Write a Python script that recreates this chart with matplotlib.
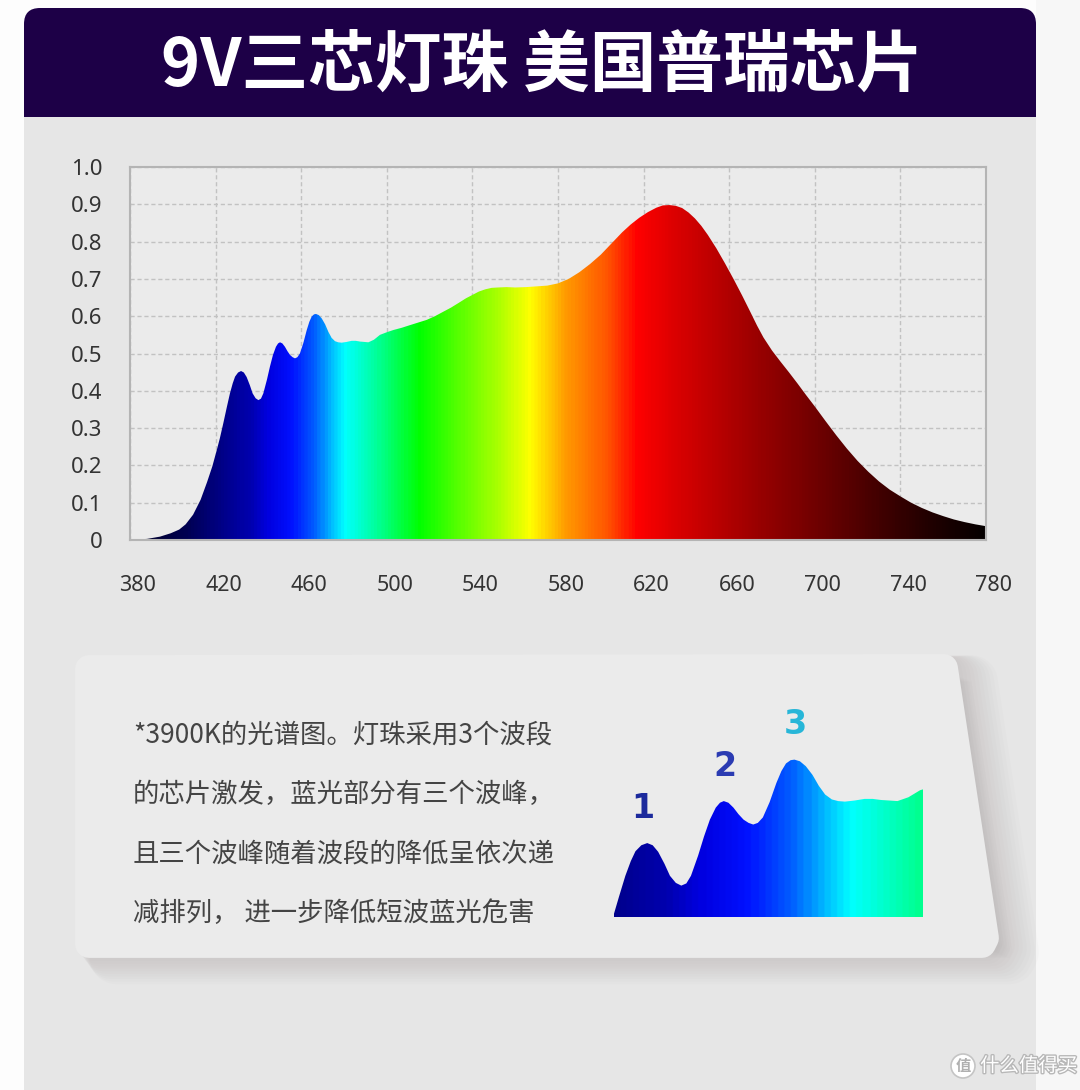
import numpy as np
import matplotlib.pyplot as plt
import matplotlib.patheffects as pe
from matplotlib.colors import LinearSegmentedColormap
from matplotlib.patches import Polygon, FancyBboxPatch, Rectangle, Circle
from matplotlib.transforms import ScaledTranslation

plt.rcParams['font.family'] = ['Noto Sans CJK SC', 'DejaVu Sans']

# spectrum (nm, relative intensity)
wavelength = [380, 388, 394, 399, 403, 406, 409.5, 413, 416, 418.5, 420.5, 422, 423.6,
              425.2, 426.7, 428, 429.1, 430.5, 431.9, 433.2, 434.5, 436, 437.3, 438.7,
              440, 441.2, 442.3, 444, 445.4, 446.8, 448.2, 449.2, 450.1, 451.2, 452.4,
              453.6, 454.8, 456, 457.1, 458.2, 459.4, 461, 462.6, 463.8, 464.9, 466,
              466.9, 468.2, 469.6, 471.2, 472.7, 474.2, 475.8, 477.3, 478.9, 481.2,
              483.6, 485.5, 487.5, 489.5, 491.4, 494, 496.8, 500, 503.1, 507, 510.8,
              514.7, 518.6, 522.5, 526.4, 530, 533.4, 537, 540, 543, 546, 549, 552,
              556, 560, 565, 570, 575, 580, 585, 590, 595, 600, 605, 610, 614, 618,
              622, 626, 629, 632, 635, 638, 641, 644, 647, 650, 654, 658, 662, 666,
              670, 673, 676, 680, 684, 688, 692, 696, 700, 705, 710, 715, 720, 725,
              730, 735, 740, 745, 750, 755, 760, 765, 770, 775, 780]
intensity = [0.0, 0.003, 0.009, 0.018, 0.028, 0.042, 0.068, 0.108, 0.155, 0.198, 0.24,
             0.273, 0.313, 0.355, 0.393, 0.42, 0.438, 0.449, 0.453, 0.449, 0.437, 0.415,
             0.393, 0.38, 0.375, 0.379, 0.393, 0.43, 0.465, 0.496, 0.518, 0.527, 0.53,
             0.527, 0.518, 0.506, 0.496, 0.49, 0.487, 0.49, 0.50, 0.528, 0.563, 0.585,
             0.599, 0.605, 0.606, 0.603, 0.594, 0.578, 0.558, 0.542, 0.533, 0.53, 0.529,
             0.531, 0.534, 0.534, 0.532, 0.531, 0.530, 0.537, 0.550, 0.557, 0.563,
             0.569, 0.576, 0.583, 0.590, 0.600, 0.612, 0.623, 0.635, 0.648, 0.657, 0.666,
             0.672, 0.676, 0.677, 0.678, 0.677, 0.678, 0.68, 0.682, 0.688, 0.70, 0.718,
             0.74, 0.765, 0.795, 0.825, 0.846, 0.864, 0.879, 0.891, 0.897, 0.898, 0.896,
             0.890, 0.878, 0.862, 0.842, 0.818, 0.782, 0.742, 0.70, 0.656, 0.61, 0.575,
             0.543, 0.508, 0.478, 0.449, 0.419, 0.388, 0.358, 0.319, 0.281, 0.245, 0.212,
             0.183, 0.157, 0.135, 0.117, 0.10, 0.086, 0.074, 0.064, 0.055, 0.048, 0.042,
             0.037]

x_ticks = [380, 420, 460, 500, 540, 580, 620, 660, 700, 740, 780]
y_ticks = [0, 0.1, 0.2, 0.3, 0.4, 0.5, 0.6, 0.7, 0.8, 0.9, 1.0]
y_tick_labels = ['0', '0.1', '0.2', '0.3', '0.4', '0.5', '0.6', '0.7', '0.8', '0.9', '1.0']

peak_wavelengths = [431.9, 450.1, 466.9]
peak_labels = ['1', '2', '3']
peak_colors = ['#1c2a9c', '#2b3bb2', '#27b6d8']

title = '9V三芯灯珠 美国普瑞芯片'
note_lines = ['*3900K的光谱图。灯珠采用3个波段',
              '的芯片激发，蓝光部分有三个波峰，',
              '且三个波峰随着波段的降低呈依次递',
              '减排列， 进一步降低短波蓝光危害']

# colour of the fill along the wavelength axis
stops = [(380, '#000020'), (405, '#000050'), (425, '#000090'), (436, '#0000b0'),
         (444, '#0000e0'), (455, '#0010ff'), (466, '#0060ff'), (474, '#00c0ff'),
         (480, '#00ffff'), (495, '#00ff99'), (515, '#00ff00'), (533, '#55ff00'),
         (553, '#b0ff00'), (567, '#ffff00'), (584, '#ff9900'), (603, '#ff5500'),
         (617, '#ff0000'), (634, '#dd0000'), (654, '#bb0000'), (674, '#990000'),
         (701, '#700000'), (732, '#400000'), (755, '#200000'), (780, '#050000')]
spec_cmap = LinearSegmentedColormap.from_list(
    'spec', [((w - 380) / 400, c) for w, c in stops])

W, H = 1080, 1090
fig = plt.figure(figsize=(W / 100, H / 100), dpi=100)
fig.patch.set_facecolor('#fdfdfd')

# background drawn in pixel coordinates
bg = fig.add_axes([0, 0, 1, 1])
bg.set_xlim(0, W)
bg.set_ylim(H, 0)
bg.axis('off')

bg.add_patch(Rectangle((1036, 0), W - 1036, H, color='#f7f7f7', lw=0))
bg.add_patch(FancyBboxPatch((24, 8), 1012, 140, boxstyle='round,pad=0,rounding_size=16',
                            fc='#1d0047', ec='none'))
bg.add_patch(Rectangle((24, 117), 1012, H - 117, color='#e6e6e6', lw=0))
bg.text(542, 66, title, color='white', fontsize=48, fontweight='heavy',
        ha='center', va='center')

# card with soft shadow
card = [(89, 669), (944, 668), (985, 938), (982, 944), (89, 944)]
for i in range(10):
    dx, dy = 4 + i * 2.6, 3 + i * 1.2
    bg.add_patch(Polygon([(x + dx, y + dy) for x, y in card], closed=True,
                         fc='#a89e9e', ec='#a89e9e', lw=20 + i * 2,
                         joinstyle='round', alpha=0.04))
bg.add_patch(Polygon(card, closed=True, fc='#ebebeb', ec='#ebebeb', lw=20,
                     joinstyle='round'))

for i, line in enumerate(note_lines):
    bg.text(133, 735 + i * 59.5, line, fontsize=19, color='#444444',
            ha='left', va='center')

# watermark
bg.add_patch(Circle((963, 1066), 12, fc='white', ec='#c4c4c4', lw=1.2))
bg.text(963, 1066, '值', fontsize=11, color='#b0b0b0', ha='center', va='center',
        fontweight='bold')
bg.text(980, 1066, '什么值得买', fontsize=14, color='white', ha='left', va='center',
        path_effects=[pe.withStroke(linewidth=2, foreground='#b8b8b8')])


def gradient_fill(a):
    poly = a.fill_between(wavelength, intensity, 0, color='none', lw=0)
    im = a.imshow(np.linspace(0, 1, 800).reshape(1, -1), extent=[380, 780, 0, 1],
                  aspect='auto', cmap=spec_cmap, origin='lower', zorder=2)
    im.set_clip_path(poly.get_paths()[0], transform=a.transData)


# main spectrum
ax = fig.add_axes([130 / W, 1 - 540 / H, 856 / W, 373 / H])
ax.set_facecolor('#ebebeb')
gradient_fill(ax)
ax.set_xlim(380, 780)
ax.set_ylim(0, 1)
ax.set_xticks(x_ticks)
ax.set_yticks(y_ticks, y_tick_labels)
ax.grid(True, ls=(0, (3, 2)), color='#c2c2c2', lw=1)
ax.set_axisbelow(True)
ax.tick_params(axis='y', length=0, pad=20, labelsize=16, colors='#333333')
ax.tick_params(axis='x', length=0, pad=25, labelsize=15.5, colors='#333333')
for lab in ax.get_xticklabels() + ax.get_yticklabels():
    lab.set_fontfamily(['Noto Sans', 'DejaVu Sans'])
for lab in ax.get_xticklabels():
    lab.set_transform(lab.get_transform() + ScaledTranslation(0.08, 0, fig.dpi_scale_trans))
for s in ax.spines.values():
    s.set_color('#b4b4b4')
    s.set_linewidth(1.5)

# zoomed blue part
ins = fig.add_axes([614 / W, 1 - 916.7 / H, 308.7 / W, 176.7 / H])
gradient_fill(ins)
ins.set_xlim(424.0, 497.4)
ins.set_ylim(0.318, 0.642)
ins.axis('off')
for wl, lab, col in zip(peak_wavelengths, peak_labels, peak_colors):
    v = np.interp(wl, wavelength, intensity)
    ins.annotate(lab, (wl, v), xytext=(-3 if lab == '1' else 1, 25),
                 textcoords='offset points', ha='center', va='center',
                 fontsize=24, fontweight='bold', color=col, annotation_clip=False,
                 family=['DejaVu Sans'])

fig.savefig('out.png', dpi=100, facecolor=fig.get_facecolor())
